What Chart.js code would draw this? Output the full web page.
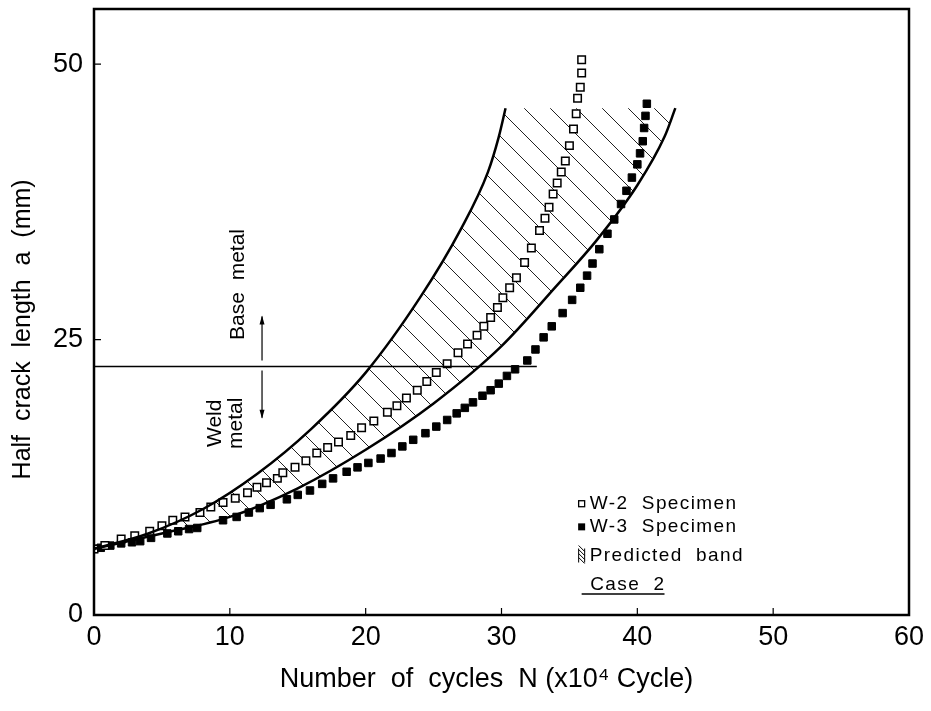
<!DOCTYPE html>
<html>
<head>
<meta charset="utf-8">
<script src="https://cdn.jsdelivr.net/npm/chart.js@4.4.0/dist/chart.umd.min.js"></script>
<style>
  html, body { margin: 0; padding: 0; background: #fff; }
  #wrap { width: 931px; height: 711px; }
</style>
</head>
<body>
<div id="wrap"><canvas id="chart"></canvas></div>
<script>
// axes
const xTicks = [0, 10, 20, 30, 40, 50, 60];
const yTicks = [0, 25, 50];

// W-2 specimen (open squares)
const w2N = [0, 0.8, 2.0, 3.0, 4.1, 5.0, 5.8, 6.7, 7.8, 8.6, 9.5, 10.4, 11.3, 12.0, 12.7, 13.5,
  13.9, 14.8, 15.6, 16.4, 17.2, 18.0, 18.9, 19.7, 20.6, 21.6, 22.3, 23.0, 23.8, 24.5, 25.2,
  26.0, 26.8, 27.5, 28.2, 28.7, 29.2, 29.7, 30.1, 30.6, 31.1, 31.7, 32.2, 32.8, 33.2, 33.5,
  33.8, 34.1, 34.4, 34.7, 35.0, 35.3, 35.5, 35.6, 35.8, 35.9, 35.9];
const w2A = [6.0, 6.3, 6.9, 7.2, 7.6, 8.1, 8.6, 8.9, 9.3, 9.8, 10.2, 10.6, 11.1, 11.6, 12.0, 12.4,
  12.9, 13.4, 14.0, 14.7, 15.2, 15.7, 16.3, 17.0, 17.6, 18.4, 19.0, 19.7, 20.4, 21.2, 22.0,
  22.8, 23.8, 24.6, 25.4, 26.2, 27.0, 27.9, 28.8, 29.7, 30.6, 32.0, 33.3, 34.9, 36.0, 37.0,
  38.2, 39.2, 40.2, 41.2, 42.6, 44.1, 45.5, 46.9, 47.9, 49.2, 50.4];

// W-3 specimen (filled squares)
const w3N = [0, 0.5, 1.2, 2.0, 2.8, 3.4, 4.2, 5.4, 6.2, 7.0, 7.6, 9.5, 10.5, 11.4, 12.2, 13.0,
  14.2, 15.0, 15.9, 16.8, 17.6, 18.6, 19.4, 20.2, 21.1, 21.9, 22.7, 23.5, 24.4, 25.2, 26.0,
  26.7, 27.3, 27.9, 28.6, 29.2, 29.8, 30.4, 31.0, 31.9, 32.5, 33.1, 33.7, 34.5, 35.2, 35.8,
  36.3, 36.7, 37.2, 37.8, 38.3, 38.8, 39.2, 39.6, 40.0, 40.2, 40.4, 40.5, 40.6, 40.7];
const w3A = [6.0, 6.1, 6.3, 6.5, 6.6, 6.7, 7.0, 7.4, 7.6, 7.8, 7.9, 8.6, 8.9, 9.3, 9.7, 10.0,
  10.5, 10.9, 11.3, 11.9, 12.4, 13.0, 13.4, 13.8, 14.2, 14.7, 15.3, 15.9, 16.5, 17.1, 17.7,
  18.3, 18.8, 19.3, 19.9, 20.4, 21.0, 21.7, 22.3, 23.1, 24.1, 25.2, 26.2, 27.4, 28.6, 29.7,
  30.8, 31.9, 33.2, 34.6, 35.9, 37.3, 38.5, 39.7, 40.9, 41.9, 43.0, 44.2, 45.3, 46.4];

// predicted band, upper (fast) and lower (slow) bounds
const bandUpN = [0, 4, 8, 12, 16, 20, 24, 27, 29, 29.8, 30.3];
const bandUpA = [6.0, 7.4, 9.6, 12.8, 16.9, 22.0, 28.8, 35.0, 40.2, 43.4, 46.0];
const bandLoN = [0, 5, 10, 15, 20, 25, 30, 34, 37, 40, 42, 42.8];
const bandLoA = [6.0, 7.4, 8.9, 11.5, 15.0, 19.2, 24.4, 29.8, 34.0, 39.0, 43.4, 46.0];

// weld / base metal boundary
const boundaryN = [0, 32.6];
const boundaryA = [22.55, 22.55];

const pts = (xs, ys) => xs.map((x, i) => ({ x: x, y: ys[i] }));

const FONT = "'Liberation Sans', Arial, sans-serif";

function makeHatch(ctx) {
  const s = 26;
  const c = document.createElement("canvas");
  c.width = s;
  c.height = s;
  const g = c.getContext("2d");
  g.strokeStyle = "#222";
  g.lineWidth = 1;
  g.beginPath();
  g.moveTo(0, 0);
  g.lineTo(s, s);
  g.stroke();
  return ctx.createPattern(c, "repeat");
}

const bandPlugin = {
  id: "band",
  beforeDatasetsDraw(chart) {
    const ctx = chart.ctx;
    const up = chart.getDatasetMeta(0).dataset;
    const lo = chart.getDatasetMeta(1).dataset;
    const area = chart.chartArea;
    ctx.save();
    ctx.beginPath();
    ctx.rect(area.left, area.top, area.right - area.left, area.bottom - area.top);
    ctx.clip();
    ctx.beginPath();
    up.pathSegment(ctx, up.segments[0], { move: true });
    lo.pathSegment(ctx, lo.segments[0], { move: false, reverse: true });
    ctx.closePath();
    ctx.fillStyle = makeHatch(ctx);
    ctx.fill();
    ctx.restore();
  },
};

const decoPlugin = {
  id: "deco",
  afterDraw(chart) {
    const ctx = chart.ctx;
    const xs = chart.scales.x;
    const ys = chart.scales.y;
    const X = (v) => xs.getPixelForValue(v);
    const Y = (v) => ys.getPixelForValue(v);
    const a = chart.chartArea;

    ctx.save();
    // frame
    ctx.strokeStyle = "#000";
    ctx.lineWidth = 2.5;
    ctx.strokeRect(a.left, a.top, a.right - a.left, a.bottom - a.top);

    // inner ticks
    ctx.lineWidth = 1.2;
    ctx.beginPath();
    xTicks.slice(1, -1).forEach((v) => {
      ctx.moveTo(X(v), a.bottom);
      ctx.lineTo(X(v), a.bottom - 7);
    });
    yTicks.slice(1).forEach((v) => {
      ctx.moveTo(a.left, Y(v));
      ctx.lineTo(a.left + 7, Y(v));
    });
    ctx.stroke();

    // arrows
    const ax = X(12.37);
    ctx.lineWidth = 1.2;
    ctx.beginPath();
    ctx.moveTo(ax, Y(23.1));
    ctx.lineTo(ax, Y(27.1));
    ctx.moveTo(ax, Y(22.2));
    ctx.lineTo(ax, Y(17.9));
    ctx.stroke();
    ctx.beginPath();
    ctx.moveTo(ax, Y(27.1) - 1);
    ctx.lineTo(ax - 2.5, Y(27.1) + 8);
    ctx.lineTo(ax + 2.5, Y(27.1) + 8);
    ctx.closePath();
    ctx.moveTo(ax, Y(17.9) + 1);
    ctx.lineTo(ax - 2.5, Y(17.9) - 8);
    ctx.lineTo(ax + 2.5, Y(17.9) - 8);
    ctx.closePath();
    ctx.fillStyle = "#000";
    ctx.fill();

    // rotated notes
    ctx.fillStyle = "#000";
    ctx.textAlign = "center";
    ctx.textBaseline = "middle";
    ctx.font = "21px " + FONT;
    const vtext = (t, x, y) => {
      ctx.save();
      ctx.translate(x, y);
      ctx.rotate(-Math.PI / 2);
      ctx.fillText(t, 0, 0);
      ctx.restore();
    };
    vtext("Base  metal", X(10.6), Y(30.0));
    vtext("Weld", X(8.9), Y(17.4));
    vtext("metal", X(10.5), Y(17.4));

    // legend
    const lx = X(35.9);
    ctx.lineWidth = 1.3;
    ctx.strokeRect(lx - 3, Y(10.1) - 3, 6, 6);
    ctx.fillRect(lx - 3.5, Y(8.0) - 3.5, 7, 7);
    const hy = Y(5.4);
    ctx.beginPath();
    ctx.moveTo(lx - 3, hy - 7);
    ctx.lineTo(lx - 3, hy + 7);
    ctx.moveTo(lx + 3, hy - 7);
    ctx.lineTo(lx + 3, hy + 7);
    for (let k = -2; k <= 1; k++) {
      ctx.moveTo(lx - 3, hy + k * 4 - 2);
      ctx.lineTo(lx + 3, hy + k * 4 + 4);
    }
    ctx.lineWidth = 1;
    ctx.stroke();

    ctx.textAlign = "left";
    ctx.font = "19px " + FONT;
    ctx.letterSpacing = "1.4px";
    ctx.fillText("W-2  Specimen", X(36.5), Y(10.1));
    ctx.fillText("W-3  Specimen", X(36.5), Y(8.0));
    ctx.fillText("Predicted  band", X(36.5), Y(5.4));
    ctx.textAlign = "center";
    ctx.fillText("Case  2", X(39.3), Y(2.7));
    ctx.letterSpacing = "0px";
    ctx.lineWidth = 1.5;
    ctx.beginPath();
    ctx.moveTo(X(35.9), Y(1.9));
    ctx.lineTo(X(42.0), Y(1.9));
    ctx.stroke();
    ctx.restore();
  },
};

const curveStyle = {
  showLine: true,
  borderColor: "#000",
  borderWidth: 2.5,
  pointRadius: 0,
  cubicInterpolationMode: "monotone",
  fill: false,
};

new Chart(document.getElementById("chart"), {
  type: "scatter",
  data: {
    datasets: [
      { ...curveStyle, label: "Predicted upper", data: pts(bandUpN, bandUpA) },
      { ...curveStyle, label: "Predicted lower", data: pts(bandLoN, bandLoA) },
      {
        label: "Boundary",
        data: pts(boundaryN, boundaryA),
        showLine: true,
        borderColor: "#000",
        borderWidth: 1.5,
        pointRadius: 0,
      },
      {
        label: "W-2 Specimen",
        data: pts(w2N, w2A),
        pointStyle: "rect",
        pointRadius: 5.3,
        pointBackgroundColor: "#fff",
        pointBorderColor: "#000",
        pointBorderWidth: 1.5,
      },
      {
        label: "W-3 Specimen",
        data: pts(w3N, w3A),
        pointStyle: "rect",
        pointRadius: 5.3,
        pointBackgroundColor: "#000",
        pointBorderColor: "#000",
        pointBorderWidth: 1,
      },
    ],
  },
  options: {
    responsive: true,
    maintainAspectRatio: false,
    animation: false,
    layout: { padding: { left: 0, top: 9, right: 22, bottom: 0 } },
    plugins: {
      legend: { display: false },
      tooltip: { enabled: false },
    },
    scales: {
      x: {
        type: "linear",
        min: 0,
        max: 60,
        afterBuildTicks: (s) => { s.ticks = xTicks.map((v) => ({ value: v })); },
        afterFit: (s) => { s.height = 96; s.paddingLeft = 0; s.paddingRight = 0; },
        grid: { display: false, drawTicks: false },
        border: { display: false },
        ticks: { padding: 6, color: "#000", font: { family: FONT, size: 27 } },
        title: {
          display: true,
          text: "Number  of  cycles  N (x10\u2074 Cycle)    ",
          color: "#000",
          font: { family: FONT, size: 27 },
          padding: { top: 0, bottom: 15 },
        },
      },
      y: {
        type: "linear",
        min: 0,
        max: 55,
        afterBuildTicks: (s) => { s.ticks = yTicks.map((v) => ({ value: v })); },
        afterFit: (s) => { s.width = 94; s.paddingTop = 0; s.paddingBottom = 0; },
        grid: { display: false, drawTicks: false },
        border: { display: false },
        ticks: { padding: 11, color: "#000", font: { family: FONT, size: 27 } },
        title: {
          display: true,
          text: "Half  crack  length  a  (mm)     ",
          color: "#000",
          font: { family: FONT, size: 25 },
          padding: { top: 8, bottom: 0 },
        },
      },
    },
  },
  plugins: [bandPlugin, decoPlugin],
});
</script>
</body>
</html>
